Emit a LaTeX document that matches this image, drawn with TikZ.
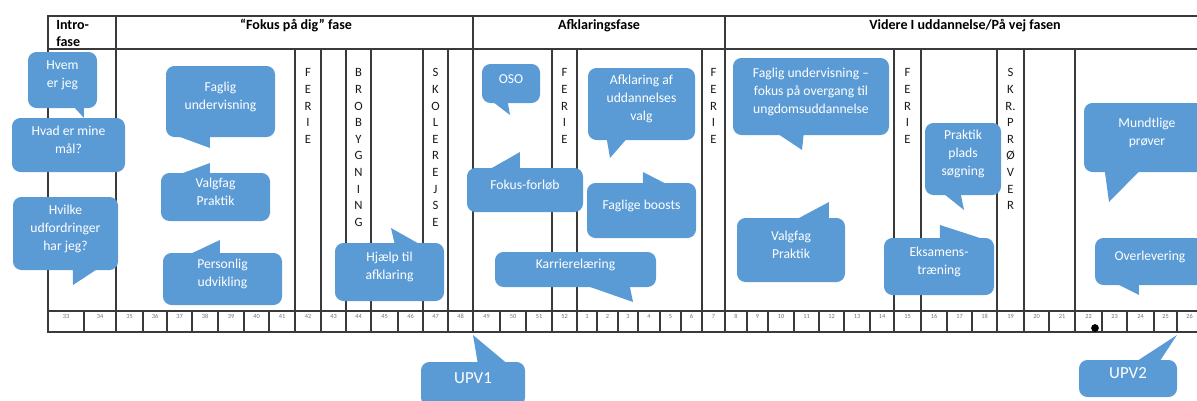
\documentclass[tikz,border=0pt]{standalone}
\usepackage{fontspec}
\setmainfont{Carlito}
\usepackage{tikz}
\usetikzlibrary{calc, fit}

\definecolor{boble}{HTML}{5B9BD5}
\definecolor{streg}{HTML}{3A3A3A}

\tikzset{
	bubble/.style={fill=boble, rounded corners=6pt, inner sep=0pt, text=white, align=center, font=\fontsize{9.7}{12.8}\selectfont},
	hale/.style={fill=boble},
	gitter/.style={draw=streg, line width=0.8pt},
	fase/.style={font=\fontsize{10}{12}\selectfont\bfseries, inner sep=0pt},
	ugenr/.style={font=\fontsize{4.5}{5}\selectfont, text=black!55, anchor=north, inner sep=0pt},
	lodret/.style={font=\fontsize{9}{11.8}\selectfont, text=black!90, align=center, anchor=north, inner sep=0pt},
}

\begin{document}
\begin{tikzpicture}[x=0.025cm, y=-0.025cm]
	\useasboundingbox (0,0) rectangle (1197,401);
	\clip (0,0) rectangle (1197,401);

% skema
	\draw[gitter] (1200,16) -- (48,16) -- (48,332) -- (1200,332);
	\draw[gitter] (48,49) -- (1200,49);
	\draw[gitter] (48,311) -- (1200,311);
	
	% fase skel
	\foreach \x in {116,473,725}
		\draw[gitter] (\x,16) -- (\x,332);
	
	% lodrette streger i midten
	\foreach \x in {295,321,346,371,423,448,552,577,702,894,921,997,1024,1075}
		\draw[gitter] (\x,49) -- (\x,332);
	
	% uger
	\foreach \a/\b/\uge in {48/84/33, 84/116/34, 116/143/35, 143/167/36, 167/192/37, 192/218/38, 218/244/39, 244/269/40, 269/295/41, 295/321/42, 321/346/43, 346/371/44, 371/398/45, 398/423/46, 423/448/47, 448/473/48, 473/500/49, 500/526/50, 526/552/51, 552/577/52, 577/597/1, 597/618/2, 618/638/3, 638/660/4, 660/681/5, 681/702/6, 702/725/7, 725/747/8, 747/768/9, 768/794/10, 794/819/11, 819/844/12, 844/870/13, 870/894/14, 894/921/15, 921/947/16, 947/972/17, 972/997/18, 997/1024/19, 1024/1049/20, 1049/1075/21, 1075/1102/22, 1102/1127/23, 1127/1154/24, 1154/1177/25, 1177/1202/26}
	{
		\draw[gitter] (\b,311) -- (\b,332);
		\node[ugenr] (uge\uge) at ({(\a+\b)/2},314) {\uge};
	}
	
	\node[circle, fill=black, inner sep=0pt, minimum size=5.5pt] (prik) at (1095,328) {};

% overskrifter
	\node[fase, anchor=north west, align=left] (intro) at (56,20.5) {Intro-\\fase};
	\node[fase, anchor=base] (fokusfase) at (296,29.5) {``Fokus på dig'' fase};
	\node[fase, anchor=base] (afklfase) at (599,29.5) {Afklaringsfase};
	\node[fase, anchor=base] (viderefase) at (965,29.5) {Videre I uddannelse/På vej fasen};

% lodret tekst
	\node[lodret] (ferie1) at (308,68.5) {F\\E\\R\\I\\E};
	\node[lodret] (brobyg) at (358.5,68.5) {B\\R\\O\\B\\Y\\G\\N\\I\\N\\G};
	\node[lodret] (skolerejse) at (435.5,68.5) {S\\K\\O\\L\\E\\R\\E\\J\\S\\E};
	\node[lodret] (ferie2) at (564.5,68.5) {F\\E\\R\\I\\E};
	\node[lodret] (ferie3) at (713.5,68.5) {F\\E\\R\\I\\E};
	\node[lodret] (ferie4) at (907.5,68.5) {F\\E\\R\\I\\E};
	\node[lodret] (skrproever) at (1010.5,68.5) {S\\K\\R.\\P\\R\\Ø\\V\\E\\R};

% bobler
	\node[bubble, fit={(28,52) (97,108)}] (hvem) {Hvem\\er jeg};
	\coordinate (hvemspids) at (84,118);
	\fill[hale] ($(hvem.south west)+(46,-1.5)$) -- (hvemspids) -- ($(hvem.south west)+(56,-1.5)$) -- cycle;
	
	\node[bubble, fit={(12,118) (125,172)}] (hvad) {Hvad er mine\\mål?};
	
	\node[bubble, fit={(13,197) (118,270)}] (hvilke) {Hvilke\\udfordringer\\har jeg?};
	\coordinate (hvilkespids) at (73,285);
	\fill[hale] ($(hvilke.south west)+(60,-1.5)$) -- (hvilkespids) -- ($(hvilke.south west)+(85,-1.5)$) -- cycle;
	
	\node[bubble, fit={(166,66) (275,137)}] (fagligund) {Faglig\\undervisning};
	\coordinate (fagligundspids) at (210,148);
	\fill[hale] ($(fagligund.south west)+(11,-1.5)$) -- (fagligundspids) -- ($(fagligund.south west)+(44,-1.5)$) -- cycle;
	
	\node[bubble, fit={(161,173) (270,221)}] (valgfag1) {Valgfag\\Praktik};
	\coordinate (valgfag1spids) at (210,163);
	\fill[hale] ($(valgfag1.north west)+(19,1.5)$) -- (valgfag1spids) -- ($(valgfag1.north west)+(49,1.5)$) -- cycle;
	
	\node[bubble, fit={(163,253) (282,305)}] (personlig) {Personlig\\udvikling};
	\coordinate (personligspids) at (220,240);
	\fill[hale] ($(personlig.north west)+(27,1.5)$) -- (personligspids) -- ($(personlig.north west)+(57,1.5)$) -- cycle;
	
	\node[bubble, fit={(335,243) (444,301)}] (hjaelp) {Hjælp til\\afklaring};
	\coordinate (hjaelpspids) at (391,228);
	\fill[hale] ($(hjaelp.north west)+(60,1.5)$) -- (hjaelpspids) -- ($(hjaelp.north west)+(85,1.5)$) -- cycle;
	
	\node[bubble, fit={(482,64) (540,103)}] (oso) {OSO};
	\coordinate (osospids) at (510,115);
	\fill[hale] ($(oso.south west)+(11,-1.5)$) -- (osospids) -- ($(oso.south west)+(26,-1.5)$) -- cycle;
	
	\node[bubble, fit={(588,68) (695,140)}] (afklaring) {Afklaring af\\uddannelses\\valg};
	\coordinate (afklaringspids) at (610,158);
	\fill[hale] ($(afklaring.south west)+(19,-1.5)$) -- (afklaringspids) -- ($(afklaring.south west)+(39,-1.5)$) -- cycle;
	
	\node[bubble, fit={(467,168) (583,212)}] (fokus) {Fokus-forløb};
	\coordinate (fokusspids) at (520,152);
	\fill[hale] ($(fokus.north west)+(23,1.5)$) -- (fokusspids) -- ($(fokus.north west)+(53,1.5)$) -- cycle;
	
	\node[bubble, fit={(587,183) (696,238)}] (boosts) {Faglige boosts};
	\coordinate (boostsspids) at (643,172);
	\fill[hale] ($(boosts.north west)+(56,1.5)$) -- (boostsspids) -- ($(boosts.north west)+(80,1.5)$) -- cycle;
	
	\node[bubble, fit={(495,252) (656,287)}] (karriere) {Karrierelæring};
	\coordinate (karrierespids) at (633,302);
	\fill[hale] ($(karriere.south west)+(92,-1.5)$) -- (karrierespids) -- ($(karriere.south west)+(135,-1.5)$) -- cycle;
	
	\node[bubble, fit={(733,58) (889,135)}] (overgang) {Faglig undervisning --\\fokus på overgang til\\ungdomsuddannelse};
	\coordinate (overgangspids) at (802,150);
	\fill[hale] ($(overgang.south west)+(45,-1.5)$) -- (overgangspids) -- ($(overgang.south west)+(71,-1.5)$) -- cycle;
	
	\node[bubble, fit={(737,218) (845,282)}] (valgfag2) {Valgfag\\Praktik};
	\coordinate (valgfag2spids) at (829,202);
	\fill[hale] ($(valgfag2.north west)+(60,1.5)$) -- (valgfag2spids) -- ($(valgfag2.north west)+(92,1.5)$) -- cycle;
	
	\node[bubble, fit={(925,123) (1001,195)}] (praktik) {Praktik\\plads\\søgning};
	\coordinate (praktikspids) at (964,210);
	\fill[hale] ($(praktik.south west)+(19,-1.5)$) -- (praktikspids) -- ($(praktik.south west)+(36,-1.5)$) -- cycle;
	
	\node[bubble, fit={(884,238) (994,295)}] (eksamen) {Eksamens-\\træning};
	\coordinate (eksamenspids) at (940,225);
	\fill[hale] ($(eksamen.north west)+(56,1.5)$) -- (eksamenspids) -- ($(eksamen.north west)+(100,1.5)$) -- cycle;
	
	\node[bubble, fit={(1084,103) (1210,172)}] (mundtlige) {Mundtlige\\prøver};
	\coordinate (mundtligespids) at (1109,202);
	\fill[hale] ($(mundtlige.south west)+(21,-1.5)$) -- (mundtligespids) -- ($(mundtlige.south west)+(56,-1.5)$) -- cycle;
	
	\node[bubble, fit={(1095,238) (1205,285)}] (overlevering) {Overlevering};
	\coordinate (overleveringspids) at (1139,295);
	\fill[hale] ($(overlevering.south west)+(22,-1.5)$) -- (overleveringspids) -- ($(overlevering.south west)+(44,-1.5)$) -- cycle;

% UPV
	\node[bubble, fit={(421,362) (525,406)}, font=\fontsize{12}{14}\selectfont] (upv1) {UPV1};
	\coordinate (upv1spids) at (473,335);
	\fill[hale] ($(upv1.north west)+(57,1.5)$) -- (upv1spids) -- ($(upv1.north west)+(86,1.5)$) -- cycle;
	
	\node[bubble, fit={(1079,360) (1177,397)}, font=\fontsize{12}{14}\selectfont] (upv2) {UPV2};
	\coordinate (upv2spids) at (1177,335);
	\fill[hale] ($(upv2.north west)+(58,1.5)$) -- (upv2spids) -- ($(upv2.north west)+(81,1.5)$) -- cycle;

\end{tikzpicture}
\end{document}
